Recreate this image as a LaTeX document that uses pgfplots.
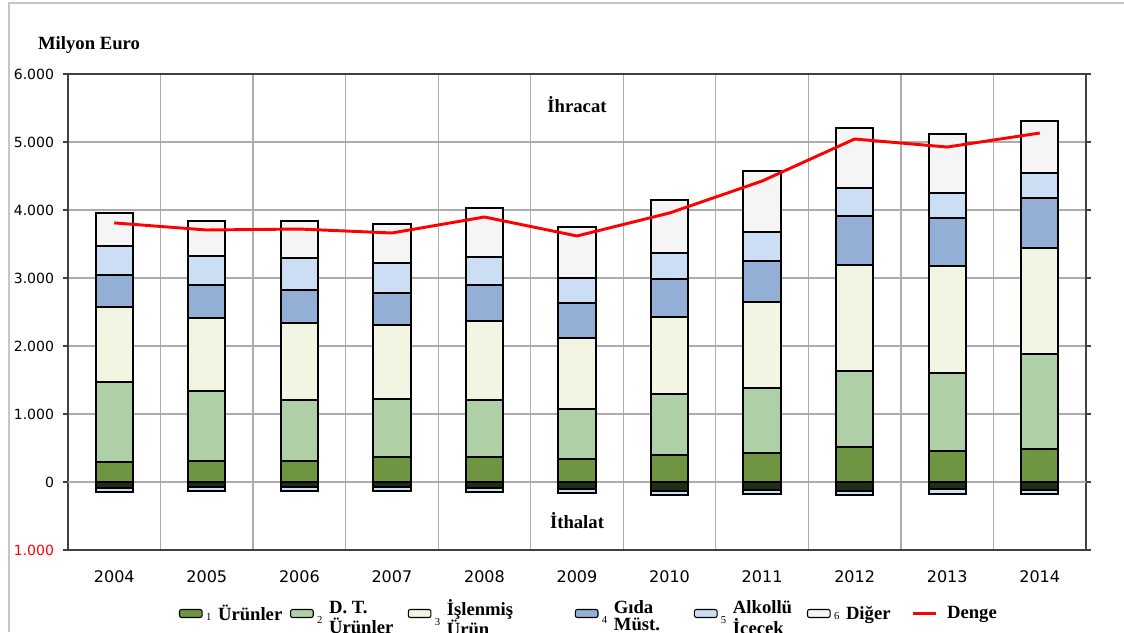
\documentclass[border=0pt]{standalone}
\usepackage{fontspec}
\setmainfont{Liberation Serif}
\newfontfamily\tickfont{DejaVu Sans}
\usepackage{pgfplots}
\usepackage{pgfplotstable}
\pgfplotsset{compat=1.18}

\definecolor{urun}{HTML}{6F9543}
\definecolor{dtur}{HTML}{AFCFA6}
\definecolor{islen}{HTML}{F1F5E2}
\definecolor{gida}{HTML}{93AFD6}
\definecolor{alkol}{HTML}{CCDEF4}
\definecolor{diger}{HTML}{F5F5F5}

% tops of the stacked segments (cumulative, Milyon Euro); n1/n2 = imports
\pgfplotstableread{
year u1  u2   u3   u4   u5   u6   denge n1   n2
2004 294 1470 2574 3044 3470 3956 3810  -85  -140
2005 309 1338 2412 2897 3324 3838 3706  -80  -130
2006 309 1206 2338 2824 3294 3838 3720  -80  -130
2007 368 1220 2309 2779 3221 3794 3662  -80  -130
2008 368 1206 2368 2897 3309 4029 3897  -85  -140
2009 338 1074 2118 2632 3000 3750 3618  -105 -160
2010 397 1294 2426 2985 3368 4147 3956  -125 -185
2011 426 1382 2647 3250 3676 4574 4426  -115 -175
2012 515 1632 3191 3912 4324 5206 5044  -125 -185
2013 456 1603 3176 3882 4250 5118 4926  -110 -170
2014 485 1882 3441 4176 4544 5309 5132  -120 -180
}\tablo

\newcommand\lnum[1]{\hspace{2.5pt}{\fontsize{8}{8}\selectfont\mdseries #1}\hspace{5pt}}
\newcommand\iki[2]{\raisebox{7.5pt}{\def\arraystretch{0.78}\begin{tabular}[t]{@{}l@{}}#1\\#2\end{tabular}}}

\begin{document}
\begin{tikzpicture}
\pgfplotsset{
  seg/.style={ybar, bar width=28pt, bar shift=0pt, draw=black, line width=1.5pt, fill=#1, forget plot},
  legbox/.style={legend image code/.code={\draw[##1, line width=0.8pt, rounded corners=1.5pt] (0pt,-3pt) rectangle (17pt,3pt);}},
}
\begin{axis}[
  scale only axis,
  width=763.5pt, height=357pt,
  xmin=2003.5, xmax=2014.5,
  ymin=-1000, ymax=6000,
  xtick={2004,2005,2006,2007,2008,2009,2010,2011,2012,2013,2014},
  xticklabels={2004,2005,2006,2007,2008,2009,2010,2011,2012,2013,2014},
  minor x tick num=1,
  xminorgrids, ymajorgrids,
  minor grid style={gray!65, line width=1pt},
  major grid style={gray!65, line width=1pt},
  x tick style={draw=none},
  ytick={-1000,0,1000,2000,3000,4000,5000,6000},
  yticklabels={\textcolor{red}{1.000},0,1.000,2.000,3.000,4.000,5.000,6.000},
  extra y ticks={0}, extra y tick labels={},
  extra y tick style={grid style={black, line width=1.6pt}, major tick length=0pt},
  y tick style={black!75, line width=1pt},
  tick align=outside, major tick length=4pt,
  xticklabel style={font=\tickfont\fontsize{12}{14}\selectfont, yshift=-8pt},
  yticklabel style={font=\tickfont\fontsize{10.5}{12}\selectfont, xshift=-3pt},
  axis line style={black!75, line width=1.2pt},
  legend columns=7,
  legend style={draw=none, fill=none, inner sep=0pt, outer sep=0pt, column sep=0pt,
    nodes={inner sep=0pt},
    font=\bfseries\fontsize{14}{14.5}\selectfont,
    at={(rel axis cs:0.109,-0.104)}, anchor=north west},
]
\addlegendimage{legbox, fill=urun, draw=black}
\addlegendentry{\lnum{1}\makebox[54pt][l]{Ürünler}}
\addlegendimage{legbox, fill=dtur, draw=black}
\addlegendentry{\lnum{2}\makebox[59pt][l]{\iki{D. T.}{Ürünler}}}
\addlegendimage{legbox, fill=islen, draw=black}
\addlegendentry{\lnum{3}\makebox[96pt][l]{\iki{İşlenmiş}{Ürün}}}
\addlegendimage{legbox, fill=gida, draw=black}
\addlegendentry{\lnum{4}\makebox[60pt][l]{\iki{Gıda}{Müst.}}}
\addlegendimage{legbox, fill=alkol, draw=black}
\addlegendentry{\lnum{5}\makebox[55.5pt][l]{\iki{Alkollü}{İçecek}}}
\addlegendimage{legbox, fill=diger, draw=black}
\addlegendentry{\lnum{6}\makebox[49.5pt][l]{Diğer}}

% exports, tallest first so each shorter bar covers the one behind
\addplot[seg=diger] table[x=year, y=u6] {\tablo};
\addplot[seg=alkol] table[x=year, y=u5] {\tablo};
\addplot[seg=gida]  table[x=year, y=u4] {\tablo};
\addplot[seg=islen] table[x=year, y=u3] {\tablo};
\addplot[seg=dtur]  table[x=year, y=u2] {\tablo};
\addplot[seg=urun]  table[x=year, y=u1] {\tablo};
% imports
\addplot[seg=alkol] table[x=year, y=n2] {\tablo};
\addplot[seg=urun!30!black] table[x=year, y=n1] {\tablo};

\addplot[red, line width=2.2pt, sharp plot, no marks] table[x=year, y=denge] {\tablo};
\addlegendentry{\hspace{7pt}Denge}

\node[font=\bfseries\fontsize{14}{16}\selectfont] at (axis cs:2009,5544) {İhracat};
\node[font=\bfseries\fontsize{14}{16}\selectfont] at (axis cs:2009,-574) {İthalat};
\end{axis}
\node[font=\bfseries\fontsize{14}{16}\selectfont]
  at ([shift={(15.75pt,378.75pt)}]current axis.south west) {Milyon Euro};
\draw[gray!45, line width=1.5pt]
  ([shift={(-44.25pt,-61.5pt)}]current axis.south west) --
  ([shift={(-44.25pt,410.25pt)}]current axis.south west) --
  ([shift={(792pt,410.25pt)}]current axis.south west);
\pgfresetboundingbox
\path[use as bounding box]
  ([shift={(-51pt,-61.5pt)}]current axis.south west) rectangle
  ([shift={(792pt,412.5pt)}]current axis.south west);
\end{tikzpicture}
\end{document}
